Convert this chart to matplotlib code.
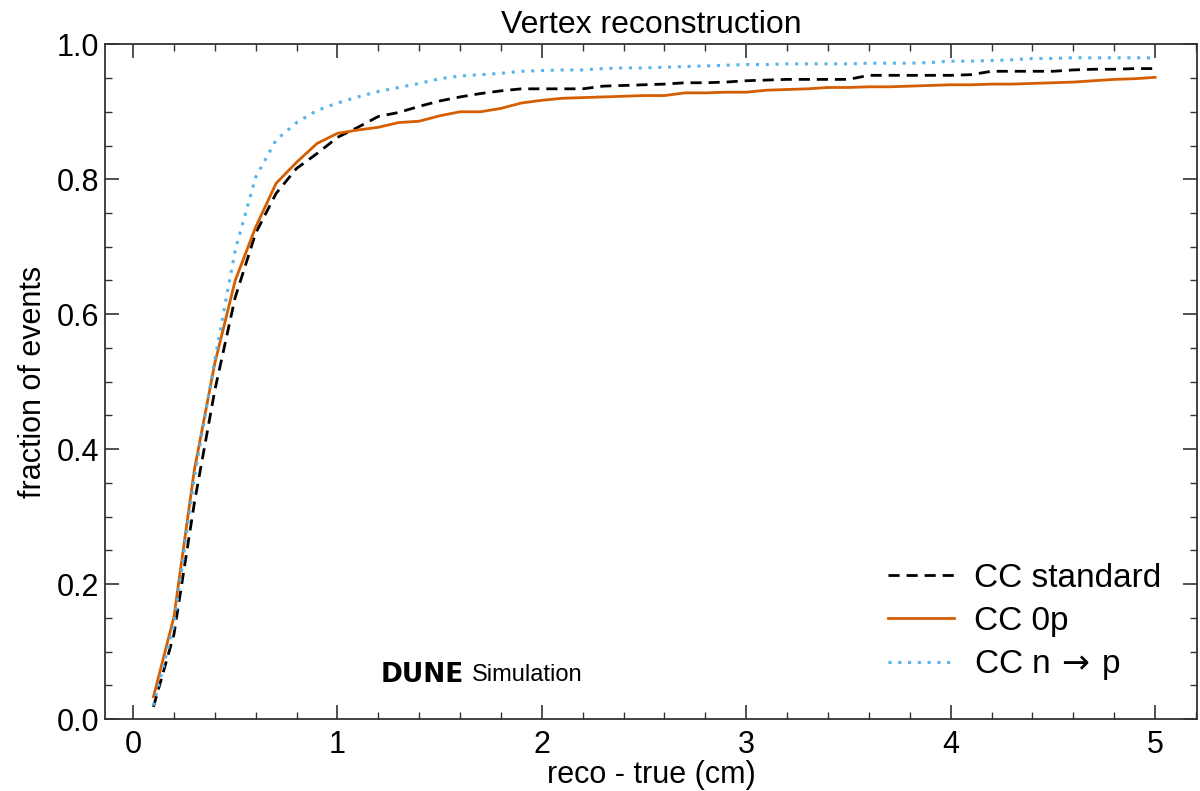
import matplotlib
matplotlib.use('Agg')
import matplotlib.pyplot as plt
from matplotlib.ticker import MultipleLocator
import numpy as np

plt.rcParams['font.family'] = ['Liberation Sans', 'DejaVu Sans']

# offset reco - true (cm), one point every 0.1 cm
dist = np.round(np.arange(1, 51) * 0.1, 1)

cc_standard = [0.018, 0.125, 0.320, 0.487, 0.625, 0.720, 0.779, 0.816, 0.838, 0.862,
               0.877, 0.893, 0.899, 0.908, 0.916, 0.922, 0.927, 0.931, 0.934, 0.934,
               0.934, 0.934, 0.938, 0.939, 0.940, 0.941, 0.943, 0.943, 0.944, 0.946,
               0.947, 0.948, 0.948, 0.948, 0.948, 0.954, 0.954, 0.954, 0.954, 0.954,
               0.955, 0.960, 0.960, 0.960, 0.960, 0.962, 0.963, 0.963, 0.964, 0.964]

cc_0p = [0.033, 0.151, 0.369, 0.527, 0.650, 0.729, 0.794, 0.825, 0.853, 0.868,
         0.873, 0.877, 0.884, 0.886, 0.894, 0.900, 0.900, 0.905, 0.913, 0.917,
         0.920, 0.921, 0.922, 0.923, 0.924, 0.924, 0.928, 0.928, 0.929, 0.929,
         0.932, 0.933, 0.934, 0.936, 0.936, 0.937, 0.937, 0.938, 0.939, 0.940,
         0.940, 0.941, 0.941, 0.942, 0.943, 0.944, 0.946, 0.948, 0.949, 0.951]

cc_n_to_p = [0.020, 0.140, 0.358, 0.532, 0.695, 0.803, 0.858, 0.884, 0.902, 0.913,
             0.922, 0.930, 0.936, 0.942, 0.949, 0.953, 0.955, 0.957, 0.960, 0.961,
             0.962, 0.962, 0.964, 0.965, 0.965, 0.966, 0.967, 0.968, 0.969, 0.970,
             0.970, 0.971, 0.971, 0.971, 0.971, 0.972, 0.972, 0.972, 0.973, 0.975,
             0.975, 0.976, 0.977, 0.979, 0.979, 0.980, 0.980, 0.980, 0.980, 0.980]

fig = plt.figure(figsize=(12, 7.91), dpi=100)
ax = fig.add_axes([0.0875, 0.091, 0.91, 0.853])

ax.plot(dist, cc_standard, color='black', linestyle=(0, (4, 2.5)), linewidth=2, label='CC standard')
ax.plot(dist, cc_0p, color='#d55e00', linestyle='-', linewidth=2, label='CC 0p')
ax.plot(dist, cc_n_to_p, color='#56b4e9', linestyle=(0, (1, 2.2)), linewidth=2.2,
        label='CC n$\\,\\rightarrow\\,$p')

ax.set_xlim(-0.137, 5.205)
ax.set_ylim(0, 1)
ax.xaxis.set_major_locator(MultipleLocator(1))
ax.xaxis.set_minor_locator(MultipleLocator(0.2))
ax.yaxis.set_major_locator(MultipleLocator(0.2))
ax.yaxis.set_minor_locator(MultipleLocator(0.05))
ax.yaxis.set_major_formatter(plt.FormatStrFormatter('%.1f'))

ax.tick_params(which='both', direction='in', top=True, right=True, color='#333333')
ax.tick_params(which='major', length=10, width=1.2, labelsize=22)
ax.tick_params(which='minor', length=5, width=1.0)
ax.tick_params(axis='x', which='major', pad=8)
ax.tick_params(axis='y', which='major', pad=4)
for s in ax.spines.values():
    s.set_color('#333333')
    s.set_linewidth(1.3)

ax.set_title('Vertex reconstruction', fontsize=23, pad=8)
ax.set_xlabel('reco - true (cm)', fontsize=22, labelpad=0)
ax.set_ylabel('fraction of events', fontsize=22, labelpad=6)

ax.legend(loc='lower right', bbox_to_anchor=(0.995, 0.01), frameon=False, fontsize=24,
          handlelength=2.0, labelspacing=0.35, handletextpad=0.6)

ax.text(0.252, 0.065, 'DUNE', transform=ax.transAxes, fontsize=19, fontweight='bold',
        family='DejaVu Sans', va='center', ha='left')
ax.text(0.336, 0.065, 'Simulation', transform=ax.transAxes, fontsize=17,
        va='center', ha='left')

plt.savefig('out.png', dpi=100)
